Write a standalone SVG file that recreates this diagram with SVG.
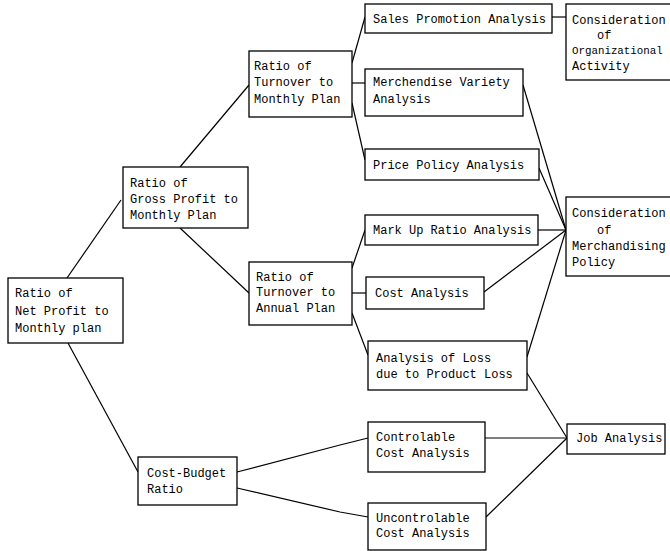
<svg xmlns="http://www.w3.org/2000/svg" width="670" height="551" viewBox="0 0 670 551">
<style>
rect{fill:#fff;stroke:#000;stroke-width:1.3}
text{font-family:"Liberation Mono","DejaVu Sans Mono",monospace;font-size:12px;fill:#000}
#connectors path{fill:none;stroke:#000;stroke-width:1.2}
</style>
<rect x="0" y="0" width="670" height="551" style="stroke:none"/>
<g id="connectors">
<path d="M67,278 L121,200"/>
<path d="M68,343 L138,472"/>
<path d="M180,167 L249,85"/>
<path d="M180,228 L249,293"/>
<path d="M352,63 L365,17"/>
<path d="M352,83 L365,83"/>
<path d="M352,103 L365,160"/>
<path d="M352,268 L365,230"/>
<path d="M352,293 L366,293"/>
<path d="M352,313 L368,355"/>
<path d="M237,472 L340,445 L368,438"/>
<path d="M237,488 L340,512 L368,517"/>
<path d="M552,17 L566,17"/>
<path d="M523,85 L566,230"/>
<path d="M539,168 L566,230"/>
<path d="M538,230 L566,230"/>
<path d="M484,292 L566,230"/>
<path d="M527,357 L566,230"/>
<path d="M527,373 L567,438"/>
<path d="M485,438 L567,438"/>
<path d="M486,517 L567,438"/>
</g>
<g id="net-profit"><rect x="8" y="278" width="115" height="65"/><text x="15" y="297">Ratio of</text><text x="15" y="315">Net Profit to</text><text x="15" y="332">Monthly plan</text></g>
<g id="gross-profit"><rect x="123" y="167" width="125" height="61"/><text x="130" y="187">Ratio of</text><text x="130" y="203">Gross Profit to</text><text x="130" y="219">Monthly Plan</text></g>
<g id="turnover-monthly"><rect x="249" y="51" width="103" height="66"/><text x="254" y="70">Ratio of</text><text x="254" y="86">Turnover to</text><text x="254" y="103">Monthly Plan</text></g>
<g id="turnover-annual"><rect x="249" y="262" width="103" height="63"/><text x="256" y="281">Ratio of</text><text x="256" y="296">Turnover to</text><text x="256" y="312">Annual Plan</text></g>
<g id="cost-budget"><rect x="138" y="457" width="99" height="48"/><text x="147" y="477">Cost-Budget</text><text x="147" y="493">Ratio</text></g>
<g id="sales-promotion"><rect x="365" y="4" width="187" height="29"/><text x="373" y="23">Sales Promotion Analysis</text></g>
<g id="merchandise-variety"><rect x="365" y="69" width="158" height="47"/><text x="373" y="86">Merchendise Variety</text><text x="373" y="103">Analysis</text></g>
<g id="price-policy"><rect x="365" y="149" width="174" height="31"/><text x="373" y="169">Price Policy Analysis</text></g>
<g id="mark-up"><rect x="365" y="215" width="173" height="30"/><text x="373" y="234">Mark Up Ratio Analysis</text></g>
<g id="cost-analysis"><rect x="366" y="277" width="118" height="32"/><text x="375" y="297">Cost Analysis</text></g>
<g id="loss-analysis"><rect x="368" y="341" width="159" height="49"/><text x="376" y="362">Analysis of Loss</text><text x="376" y="378">due to Product Loss</text></g>
<g id="controlable"><rect x="368" y="422" width="117" height="50"/><text x="376" y="441">Controlable</text><text x="376" y="457">Cost Analysis</text></g>
<g id="uncontrolable"><rect x="368" y="503" width="118" height="47"/><text x="376" y="522">Uncontrolable</text><text x="376" y="537">Cost Analysis</text></g>
<g id="job-analysis"><rect x="567" y="424" width="98" height="30"/><text x="576" y="442">Job Analysis</text></g>
<g id="org-activity"><rect x="566" y="4" width="110" height="76"/><text x="572" y="24">Consideration</text><text x="597" y="39">of</text><text x="572" y="54" style="font-size:10.8px">Organizational</text><text x="572" y="70">Activity</text></g>
<g id="merch-policy"><rect x="566" y="197" width="110" height="79"/><text x="572" y="217">Consideration</text><text x="597" y="234">of</text><text x="572" y="250">Merchandising</text><text x="572" y="266">Policy</text></g>
</svg>
